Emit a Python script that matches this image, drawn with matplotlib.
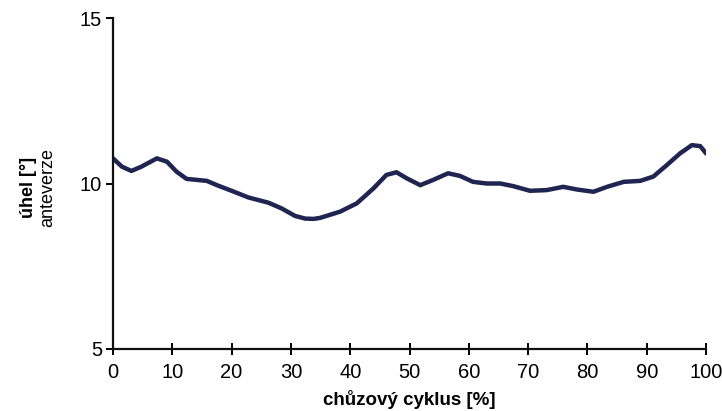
import matplotlib.pyplot as plt

plt.rcParams['font.family'] = ['Liberation Sans', 'DejaVu Sans']

# gait cycle [%] and anteversion angle [deg]
cycle = [0, 1.5, 3.1, 4.8, 7.4, 9.1, 10.7, 12.4, 14.1, 15.8, 17.8, 20.0, 22.8,
         26.2, 28.4, 30.7, 32.4, 33.8, 34.9, 38.3, 41.1, 43.9, 46.1, 47.8,
         49.5, 51.8, 54.0, 56.5, 58.5, 60.7, 63.0, 65.3, 67.5, 70.3, 73.1,
         75.9, 78.2, 81.0, 83.3, 86.1, 88.9, 91.1, 93.4, 95.6, 97.6, 99.0, 100]
angle = [10.76, 10.51, 10.38, 10.51, 10.76, 10.66, 10.36, 10.14, 10.11, 10.08,
         9.93, 9.78, 9.58, 9.42, 9.25, 9.02, 8.94, 8.93, 8.96, 9.15, 9.40, 9.85,
         10.26, 10.34, 10.16, 9.95, 10.11, 10.31, 10.23, 10.05, 10.0, 10.0,
         9.92, 9.78, 9.80, 9.90, 9.82, 9.75, 9.90, 10.05, 10.08, 10.21, 10.56,
         10.91, 11.16, 11.13, 10.91]

x_ticks = list(range(0, 101, 10))
y_ticks = [5, 10, 15]

fig = plt.figure(figsize=(7.22, 4.11), dpi=100)
ax = fig.add_axes([0.1565, 0.151, 0.8215, 0.805])

ax.plot(cycle, angle, color='#1f2550', lw=3.2, solid_joinstyle='round',
        solid_capstyle='round')

ax.set_xlim(0, 100)
ax.set_ylim(5, 15)
ax.set_xticks(x_ticks)
ax.set_yticks(y_ticks)

for s in ['top', 'right']:
    ax.spines[s].set_visible(False)
for s in ['left', 'bottom']:
    ax.spines[s].set_linewidth(1.6)
    ax.spines[s].set_color('#111111')

ax.tick_params(axis='x', direction='inout', length=8, width=1.4, labelsize=14.5, pad=6)
ax.tick_params(axis='y', direction='out', length=5, width=1.4, labelsize=14.5, pad=3)

ax.set_xlabel('chůzový cyklus [%]', fontsize=13.5, fontweight='bold', labelpad=6)

fig.text(0.039, 0.545, 'úhel [°]', rotation=90, fontsize=13, fontweight='bold',
         ha='center', va='center')
fig.text(0.066, 0.545, 'anteverze', rotation=90, fontsize=13,
         ha='center', va='center')

fig.savefig('out.png', dpi=100)
